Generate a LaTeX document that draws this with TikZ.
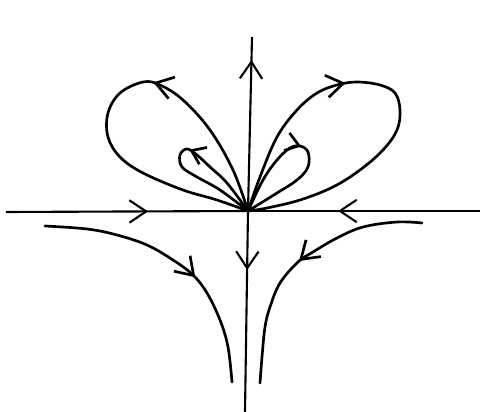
\documentclass[tikz,border=0pt]{standalone}
\usepackage{tikz}
\usetikzlibrary{arrows.meta, decorations.markings}

\tikzset{
  flowtip/.tip={Straight Barb[length=4.2mm, width=5.6mm]},
  smalltip/.tip={Straight Barb[length=3.2mm, width=4.6mm]},
}

\begin{document}
\begin{tikzpicture}[
  x=0.025cm, y=0.025cm,
  axis/.style={line width=1.5pt},
  orbit/.style={line width=1.9pt, line cap=round, line join=round},
  midarrow/.style={postaction={decorate, decoration={markings,
    mark=at position #1 with {\arrow{flowtip}}}}},
  smallarrow/.style={postaction={decorate, decoration={markings,
    mark=at position #1 with {\arrow{smalltip}}}}}
]
  \useasboundingbox (-248,-201) rectangle (232,211);

  \coordinate (O) at (0,0);
  \coordinate (xl) at (-242,-1);
  \coordinate (xr) at (232,0);
  \coordinate (yt) at (4,174);
  \coordinate (yb) at (-3,-201);

  % axes, one arrow on each half
  \draw[axis, midarrow=0.587] (xl) -- (O);
  \draw[axis, midarrow=0.612] (xr) -- (O);
  \draw[axis, midarrow=0.868] (O) -- (yt);
  \draw[axis, midarrow=0.294] (O) -- (yb);

  % loops above the axis
  \draw[orbit, midarrow=0.40] plot[smooth, tension=0.6] coordinates {
    (O) (-15,41) (-38,81) (-65,111) (-88,126) (-105,129) (-128,118)
    (-140,98) (-140,74) (-128,54) (-105,38) (-65,21) (-31,11) (O)};
  \draw[orbit, smallarrow=0.45] plot[smooth, tension=0.6] coordinates {
    (O) (-21,28) (-38,44) (-51,56) (-61,62) (-68,56) (-66,44)
    (-51,34) (-28,21) (O)};
  \draw[orbit, midarrow=0.39] plot[smooth, tension=0.6] coordinates {
    (O) (12,34) (29,74) (49,101) (69,118) (89,126) (109,129) (132,126)
    (147,118) (152,101) (149,81) (135,61) (112,41) (85,24) (52,11) (19,3) (O)};
  \draw[orbit, smallarrow=0.47] plot[smooth, tension=0.6] coordinates {
    (O) (15,31) (29,51) (42,63) (52,65) (60,59) (60,44) (49,31) (29,18) (O)};

  % curves below the axis
  \draw[orbit, midarrow=0.59] plot[smooth, tension=0.6] coordinates {
    (-203,-15) (-161,-18) (-131,-24) (-101,-34) (-75,-49) (-55,-64)
    (-41,-82) (-28,-109) (-20,-136) (-16,-171)};
  \draw[orbit, midarrow=0.50] plot[smooth, tension=0.6] coordinates {
    (174,-12) (149,-11) (115,-16) (89,-27) (65,-41) (50,-51)
    (32,-72) (22,-96) (17,-116) (14,-146) (12,-172)};
\end{tikzpicture}
\end{document}
